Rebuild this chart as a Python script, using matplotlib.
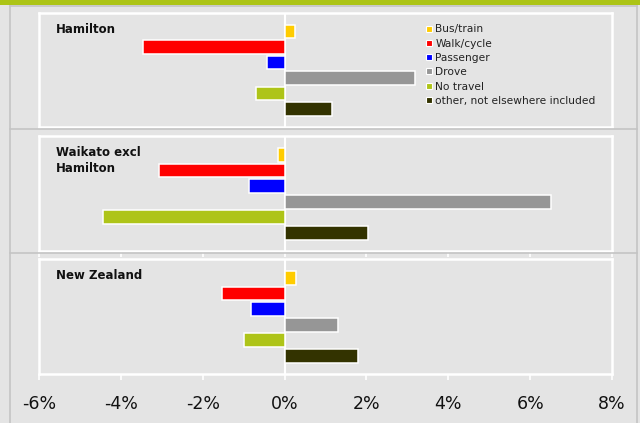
import matplotlib
matplotlib.use("Agg")
import matplotlib.pyplot as plt
from matplotlib.lines import Line2D
from matplotlib.patches import Rectangle

# change in share of people by main means of travel to work (percentage points)
categories = ["Bus/train", "Walk/cycle", "Passenger", "Drove", "No travel",
              "other, not elsewhere included"]
colors = ["#ffcc00", "#ff0000", "#0000ff", "#969696", "#aec418", "#333300"]

regions = ["Hamilton", "Waikato excl\nHamilton", "New Zealand"]
hamilton = [0.25, -3.47, -0.42, 3.18, -0.71, 1.15]
waikato = [-0.15, -3.06, -0.88, 6.51, -4.43, 2.03]
new_zealand = [0.29, -1.54, -0.81, 1.30, -1.00, 1.79]
values = [hamilton, waikato, new_zealand]

xticks = [-6, -4, -2, 0, 2, 4, 6, 8]
xlabels = ["-6%", "-4%", "-2%", "0%", "2%", "4%", "6%", "8%"]

bg = "#e4e4e4"
W, H = 640, 423
fig = plt.figure(figsize=(6.4, 4.23), dpi=100, facecolor=bg)

def fx(px):
    return px / W

def fy(py):
    return 1 - py / H

# green strip on top
fig.patches.append(Rectangle((0, fy(5)), 1, 5 / H, transform=fig.transFigure,
                             facecolor="#acc416", edgecolor="none"))
# outer panel borders
border = "#c4c4c4"
for x0, y0, x1, y1 in [(10, 6, 10, 423), (637, 6, 637, 423), (10, 6, 637, 6),
                       (10, 129, 637, 129), (10, 253, 637, 253)]:
    fig.lines.append(Line2D([fx(x0), fx(x1)], [fy(y0), fy(y1)],
                            transform=fig.transFigure, color=border, lw=1.2))

panels = [(13, 127), (136, 251), (259, 374)]
pos = range(len(categories))

for i, (top, bot) in enumerate(panels):
    ax = fig.add_axes([fx(39), fy(bot), fx(612) - fx(39), (bot - top) / H])
    ax.set_facecolor(bg)
    ax.barh(pos, values[i], height=0.88, color=colors, edgecolor="white", lw=1.1,
            zorder=3)
    ax.axvline(0, color="white", lw=1.5, zorder=2)
    ax.set_xlim(-6, 8)
    ax.set_ylim(5 + 1.15, -1.2)
    for s in ax.spines.values():
        s.set_color("white")
        s.set_linewidth(1.8)
    ax.set_yticks([])
    ax.set_xticks(xticks)
    ax.tick_params(axis="x", color="white", width=1.2, length=4, pad=11,
                   labelsize=12.5, labelcolor="#111111")
    if i < 2:
        ax.set_xticklabels([])
    else:
        ax.set_xticklabels(xlabels)
    if i == 0:
        ax.tick_params(axis="x", length=0)
    ax.text(0.03, 0.91, regions[i], transform=ax.transAxes, fontsize=8.5,
            fontweight="bold", va="top", ha="left", color="#111111",
            linespacing=1.25)
    if i == 0:
        handles = [Line2D([], [], marker="s", ls="none", markersize=4.5,
                          markerfacecolor=c, markeredgecolor="white",
                          markeredgewidth=0.8) for c in colors]
        ax.legend(handles, categories, loc="upper left",
                  bbox_to_anchor=(0.66, 0.975), frameon=False, fontsize=7.7,
                  handlelength=0.6, handletextpad=0.3, labelspacing=0.4,
                  borderaxespad=0.4, labelcolor="#222222")

fig.savefig("out.png", dpi=100, facecolor=bg)
